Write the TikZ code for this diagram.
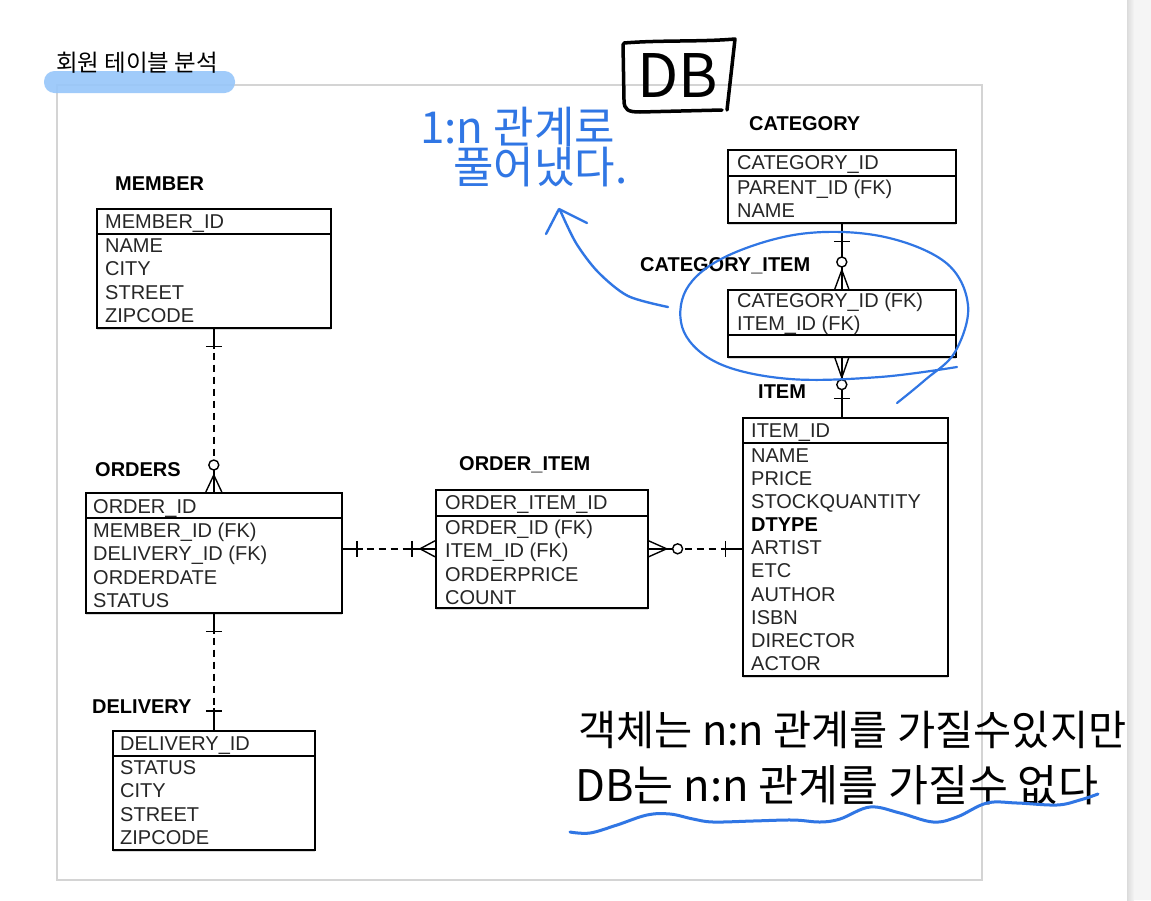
\documentclass[tikz,border=0pt]{standalone}
\usepackage{fontspec}
\setmainfont{Liberation Sans}
\newfontfamily\krfont{Noto Sans CJK KR}
\usetikzlibrary{shadows}
\definecolor{penblue}{RGB}{48,118,228}
\definecolor{barblue}{RGB}{150,198,250}
\definecolor{framegray}{RGB}{212,212,212}

\begin{document}
\begin{tikzpicture}[x=1pt,y=-1pt,
  tbox/.style={draw,line width=1.6pt,fill=white,anchor=north west,inner sep=0pt,
    drop shadow={shadow xshift=0.6pt,shadow yshift=-2.2pt,opacity=0.3}},
  tfield/.style={anchor=west,inner sep=0pt,text height=14pt,text depth=0pt,
    font=\fontsize{20}{24}\selectfont,text=black!85},
  tname/.style={anchor=west,inner sep=0pt,text height=14.3pt,text depth=0pt,
    font=\fontsize{20}{24}\selectfont\bfseries},
  rel/.style={line width=1.4pt},
  reldash/.style={rel,dash pattern=on 7pt off 5pt},
  pen/.style={penblue,line width=2.4pt,line cap=round,line join=round},
  handtext/.style={anchor=west,inner sep=0pt,text height=30pt,text depth=0pt,
    font=\krfont\fontsize{44}{44}\selectfont}]

\useasboundingbox (0,0) rectangle (1151,900);
\fill[white] (0,0) rectangle (1151,900);

% page edge
\fill[black!4] (1127,0) rectangle (1151,900);
\shade[left color=black!14,right color=black!4] (1127,0) rectangle (1134,900);

% frame and heading
\draw[framegray,line width=2pt] (57,85) rectangle (982,880);
\fill[barblue,opacity=0.9,rounded corners=10.5pt] (44,71) rectangle (235,93);
\node[anchor=west,inner sep=0pt,font=\krfont\fontsize{23.5}{24}\selectfont] (heading) at (56,63) {회원 테이블 분석};

% MEMBER
\node[tname] (member-t) at (115,183) {MEMBER};
\node[tbox,minimum width=234pt,minimum height=119pt] (member) at (96,208) {};
\draw[line width=1.6pt] ([yshift=-26pt]member.north west) -- ([yshift=-26pt]member.north east);
\node[tfield] (m0) at (105,221) {MEMBER\_ID};
\node[tfield] (m1) at (105,245) {NAME};
\node[tfield] (m2) at (105,268) {CITY};
\node[tfield] (m3) at (105,292) {STREET};
\node[tfield] (m4) at (105,315) {ZIPCODE};

% ORDERS
\node[tname] (orders-t) at (95,469) {ORDERS};
\node[tbox,minimum width=256pt,minimum height=120pt] (orders) at (85,492) {};
\draw[line width=1.6pt] ([yshift=-26pt]orders.north west) -- ([yshift=-26pt]orders.north east);
\node[tfield] (o0) at (93,506) {ORDER\_ID};
\node[tfield] (o1) at (93,530) {MEMBER\_ID (FK)};
\node[tfield] (o2) at (93,553) {DELIVERY\_ID (FK)};
\node[tfield] (o3) at (93,577) {ORDERDATE};
\node[tfield] (o4) at (93,600) {STATUS};

% DELIVERY
\node[tname] (delivery-t) at (92,706) {DELIVERY};
\node[tbox,minimum width=202pt,minimum height=119pt] (delivery) at (112,730) {};
\draw[line width=1.6pt] ([yshift=-26pt]delivery.north west) -- ([yshift=-26pt]delivery.north east);
\node[tfield] (d0) at (120,743) {DELIVERY\_ID};
\node[tfield] (d1) at (120,767) {STATUS};
\node[tfield] (d2) at (120,790) {CITY};
\node[tfield] (d3) at (120,814) {STREET};
\node[tfield] (d4) at (120,837) {ZIPCODE};

% ORDER_ITEM
\node[tname] (orderitem-t) at (459,463) {ORDER\_ITEM};
\node[tbox,minimum width=212pt,minimum height=118pt] (orderitem) at (435,489) {};
\draw[line width=1.6pt] ([yshift=-27pt]orderitem.north west) -- ([yshift=-27pt]orderitem.north east);
\node[tfield] (oi0) at (445,502) {ORDER\_ITEM\_ID};
\node[tfield] (oi1) at (445,527) {ORDER\_ID (FK)};
\node[tfield] (oi2) at (445,550) {ITEM\_ID (FK)};
\node[tfield] (oi3) at (445,574) {ORDERPRICE};
\node[tfield] (oi4) at (445,597) {COUNT};

% ITEM
\node[tname] (item-t) at (758,391) {ITEM};
\node[tbox,minimum width=205pt,minimum height=258pt] (item) at (742,417) {};
\draw[line width=1.6pt] ([yshift=-26pt]item.north west) -- ([yshift=-26pt]item.north east);
\node[tfield] (i0) at (751,430) {ITEM\_ID};
\node[tfield] (i1) at (751,455) {NAME};
\node[tfield] (i2) at (751,478) {PRICE};
\node[tfield] (i3) at (751,501) {STOCKQUANTITY};
\node[tfield,font=\fontsize{20}{24}\selectfont\bfseries,text=black] (i4) at (751,524) {DTYPE};
\node[tfield] (i5) at (751,547) {ARTIST};
\node[tfield] (i6) at (751,570) {ETC};
\node[tfield] (i7) at (751,594) {AUTHOR};
\node[tfield] (i8) at (751,617) {ISBN};
\node[tfield] (i9) at (751,640) {DIRECTOR};
\node[tfield] (i10) at (751,663) {ACTOR};

% CATEGORY
\node[tname] (category-t) at (749,123) {CATEGORY};
\node[tbox,minimum width=228pt,minimum height=73pt] (category) at (727,149) {};
\draw[line width=1.6pt] ([yshift=-27pt]category.north west) -- ([yshift=-27pt]category.north east);
\node[tfield] (c0) at (737,162) {CATEGORY\_ID};
\node[tfield] (c1) at (737,187) {PARENT\_ID (FK)};
\node[tfield] (c2) at (737,210) {NAME};

% CATEGORY_ITEM
\node[tname] (catitem-t) at (640,264) {CATEGORY\_ITEM};
\node[tbox,minimum width=228pt,minimum height=67pt] (catitem) at (727,289) {};
\draw[line width=1.6pt] ([yshift=-46pt]catitem.north west) -- ([yshift=-46pt]catitem.north east);
\node[tfield] (ci0) at (737,300) {CATEGORY\_ID (FK)};
\node[tfield] (ci1) at (737,323) {ITEM\_ID (FK)};

% MEMBER - ORDERS
\draw[reldash] (member.south) -- (orders.north);
\draw[rel] (member.south) -- ++(0,20);
\draw[rel] ([shift={(-8,18)}]member.south) -- ++(16,0);
\draw[rel] (orders.north) -- ++(0,-22);
\draw[rel] ([shift={(-8,0)}]orders.north) -- ++(8,-17) -- ++(8,17);
\draw[rel,fill=white] ([shift={(0,-27)}]orders.north) circle[radius=5pt];

% ORDERS - DELIVERY
\draw[reldash] (orders.south) -- (delivery.north);
\draw[rel] (orders.south) -- ++(0,20);
\draw[rel] ([shift={(-8,18)}]orders.south) -- ++(16,0);
\draw[rel] (delivery.north) -- ++(0,-22);
\draw[rel] ([shift={(-8,-19)}]delivery.north) -- ++(16,0);

% ORDERS - ORDER_ITEM
\draw[reldash] (orders.east |- orderitem.west) -- (orderitem.west);
\draw[rel] (orders.east |- orderitem.west) -- ++(20,0);
\draw[rel] ([shift={(-78,-8)}]orderitem.west) -- ++(0,16);
\draw[rel] (orderitem.west) -- ++(-28,0);
\draw[rel] ([shift={(-23,-8)}]orderitem.west) -- ++(0,16);
\draw[rel] ([shift={(0,-8)}]orderitem.west) -- ++(-15,8) -- ++(15,8);

% ORDER_ITEM - ITEM
\draw[reldash] (orderitem.east) -- (orderitem.east -| item.west);
\draw[rel] (orderitem.east) -- ++(24,0);
\draw[rel] ([shift={(0,-8)}]orderitem.east) -- ++(18,8) -- ++(-18,8);
\draw[rel,fill=white] ([shift={(29,0)}]orderitem.east) circle[radius=5pt];
\draw[rel] ([shift={(77,-8)}]orderitem.east) -- ++(0,16);
\draw[rel] ([shift={(77,0)}]orderitem.east) -- (orderitem.east -| item.west);

% CATEGORY - CATEGORY_ITEM
\draw[rel] (category.south) -- (catitem.north);
\draw[rel] ([shift={(-8,18)}]category.south) -- ++(16,0);
\draw[rel] ([shift={(-7,0)}]catitem.north) -- ++(7,-19) -- ++(7,19);
\draw[rel,fill=white] ([shift={(0,-27)}]catitem.north) circle[radius=5pt];

% CATEGORY_ITEM - ITEM
\draw[rel] (catitem.south) -- (catitem.south |- item.north);
\draw[rel] ([shift={(-7,0)}]catitem.south) -- ++(7,20) -- ++(7,-20);
\draw[rel,fill=white] ([shift={(0,27)}]catitem.south) circle[radius=5pt];
\draw[rel] ([shift={(-8,41)}]catitem.south) -- ++(16,0);

% DB box
\draw[line width=3.5pt,line cap=round,line join=round]
  (624,43) .. controls (660,40) and (700,42) .. (735,39) -- (727,110);
\draw[line width=3.5pt,line cap=round,line join=round]
  (623,44) -- (624,100) .. controls (624,110) and (628,112) .. (640,112) -- (722,110);
\node[inner sep=0pt,font=\krfont\fontsize{60}{60}\selectfont] (db) at (678,76) {DB};

% blue notes
\draw[pen,line width=2.2pt] plot[smooth,tension=0.6] coordinates {(957,367) (880,377) (790,379)
  (720,364) (684,332) (686,290) (725,257) (800,234) (880,236) (945,262) (968,305) (955,352)
  (925,380) (897,403)};
\draw[pen] plot[smooth] coordinates {(668,307) (628,296) (598,272) (576,243) (560,210)};
\draw[pen] (546,234) -- (559,209) -- (587,223);
\node[handtext,text=penblue] (note1) at (420,128) {1:n 관계로};
\node[handtext,text=penblue] (note2) at (453,168) {풀어냈다.};

% black notes
\node[handtext,font=\krfont\fontsize{41.5}{42}\selectfont] (note3) at (578,730) {객체는 n:n 관계를 가질수있지만};
\node[handtext,font=\krfont\fontsize{43.5}{44}\selectfont] (note4) at (575,786) {DB는 n:n 관계를 가질수 없다};
\draw[pen,line width=3pt] plot[smooth,tension=0.6] coordinates {(570,832) (590,833) (617,825)
  (647,815) (670,814) (693,819) (713,822) (753,821) (793,820) (820,822) (840,819) (870,807)
  (900,813) (933,822) (957,817) (987,803) (1017,803) (1057,805) (1080,800) (1098,794)};

\end{tikzpicture}
\end{document}
